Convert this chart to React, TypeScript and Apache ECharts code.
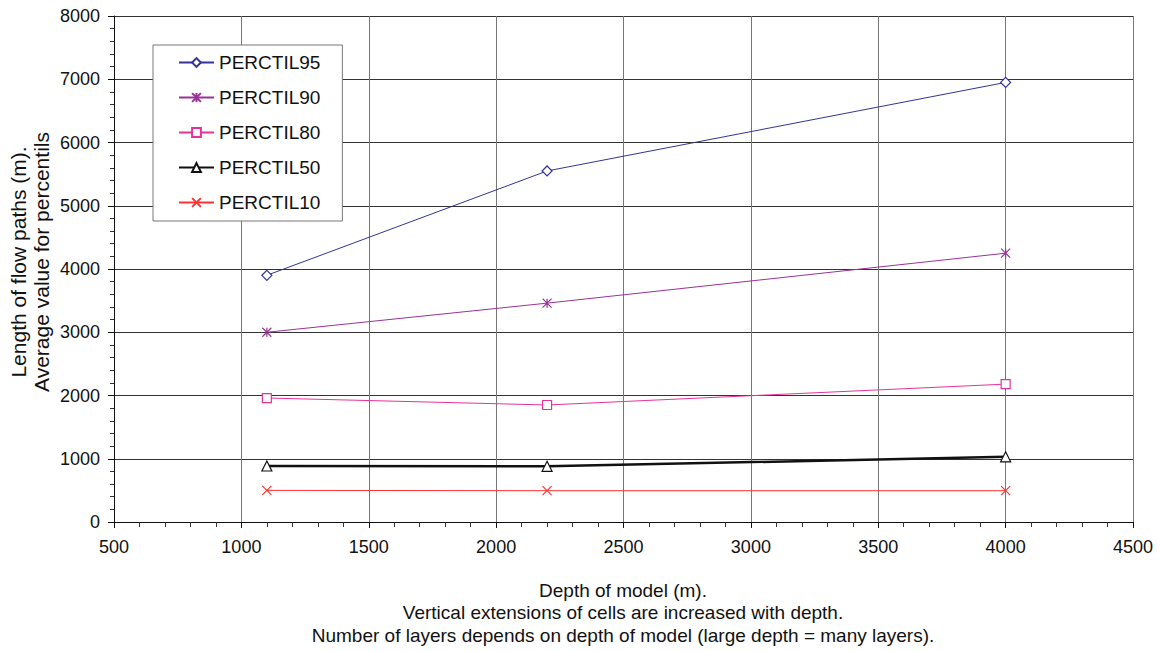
import React, { useEffect, useRef } from "react";
import * as echarts from "echarts";

const depths = [1100, 2200, 4000];
const seriesNames = ["PERCTIL95", "PERCTIL90", "PERCTIL80", "PERCTIL50", "PERCTIL10"];
const p95 = [3900, 5550, 6950];
const p90 = [3000, 3460, 4250];
const p80 = [1960, 1850, 2180];
const p50 = [885, 880, 1030];
const p10 = [500, 495, 495];

const xTitle = [
  "Depth of model (m).",
  "Vertical extensions of cells are increased with depth.",
  "Number of layers depends on depth of model (large depth = many layers).",
];
const yTitle = ["Length of flow paths (m).", "Average value for percentils"];

const ASTER = "path://M5 0L5 10M0 0L10 10M10 0L0 10";
const CROSS = "path://M0 0L10 10M10 0L0 10";

export default function App() {
  const ref = useRef<HTMLDivElement>(null);
  useEffect(() => {
    const chart = echarts.init(ref.current!, null, { renderer: "svg" });
    const font = "Liberation Sans, Arial, sans-serif";
    const mk = (
      name: string,
      vals: number[],
      color: string,
      symbol: string,
      size: number,
      width: number,
      fill: string
    ) => ({
      name,
      type: "line",
      data: depths.map((d, i) => [d, vals[i]]),
      symbol,
      symbolSize: size,
      showAllSymbol: true,
      lineStyle: { color, width },
      itemStyle: { color: fill, borderColor: color, borderWidth: 1.2 },
      z: 5,
    });
    chart.setOption({
      animation: false,
      backgroundColor: "#fff",
      textStyle: { fontFamily: font },
      grid: { left: 114, right: 27, top: 16, bottom: 129, containLabel: false },
      legend: {
        orient: "vertical",
        left: 153,
        top: 45,
        padding: [8, 22, 9, 25],
        itemGap: 16,
        itemWidth: 35,
        itemHeight: 11,
        backgroundColor: "#fff",
        borderColor: "#777",
        borderWidth: 1,
        textStyle: { fontSize: 19, color: "#111", fontFamily: font },
        data: seriesNames,
      },
      xAxis: {
        type: "value",
        min: 500,
        max: 4500,
        interval: 500,
        axisLine: { show: true, onZero: false, lineStyle: { color: "#111" } },
        axisTick: { show: true, length: 6, lineStyle: { color: "#111" } },
        minorTick: { show: true, splitNumber: 5, length: 5, lineStyle: { color: "#333" } },
        splitLine: { show: true, lineStyle: { color: "#777", width: 1 } },
        axisLabel: {
          fontSize: 18,
          color: "#111",
          margin: 16,
          fontFamily: font,
          formatter: (v: number) => String(v),
        },
      },
      yAxis: {
        type: "value",
        min: 0,
        max: 8000,
        interval: 1000,
        axisLine: { show: true, lineStyle: { color: "#111" } },
        axisTick: { show: true, length: 6, lineStyle: { color: "#111" } },
        minorTick: { show: true, splitNumber: 5, length: 4, lineStyle: { color: "#333" } },
        splitLine: { show: true, lineStyle: { color: "#333", width: 1 } },
        axisLabel: {
          fontSize: 18,
          color: "#111",
          margin: 14,
          fontFamily: font,
          formatter: (v: number) => String(v),
        },
      },
      graphic: [
        {
          type: "text",
          x: 623,
          y: 579,
          style: {
            text: xTitle.join("\n"),
            fontSize: 19,
            lineHeight: 22.5,
            fill: "#111",
            align: "center",
            verticalAlign: "top",
            fontFamily: font,
          },
        },
        {
          type: "text",
          x: 29.5,
          y: 262,
          rotation: Math.PI / 2,
          style: {
            text: yTitle.join("\n"),
            fontSize: 21,
            lineHeight: 23,
            fill: "#111",
            align: "center",
            verticalAlign: "middle",
            fontFamily: font,
          },
        },
      ],
      series: [
        mk(seriesNames[0], p95, "#333399", "diamond", 10, 1, "#fff"),
        mk(seriesNames[1], p90, "#993399", ASTER, 9, 1, "#993399"),
        mk(seriesNames[2], p80, "#E6339A", "rect", 9, 1, "#fff"),
        mk(seriesNames[3], p50, "#111111", "triangle", 10, 2.5, "#fff"),
        mk(seriesNames[4], p10, "#FF3333", CROSS, 9, 1, "#FF3333"),
      ],
    });
    return () => chart.dispose();
  }, []);
  return (
    <div
      ref={ref}
      style={{ position: "fixed", left: 0, top: 0, width: 1160, height: 651 }}
    />
  );
}
